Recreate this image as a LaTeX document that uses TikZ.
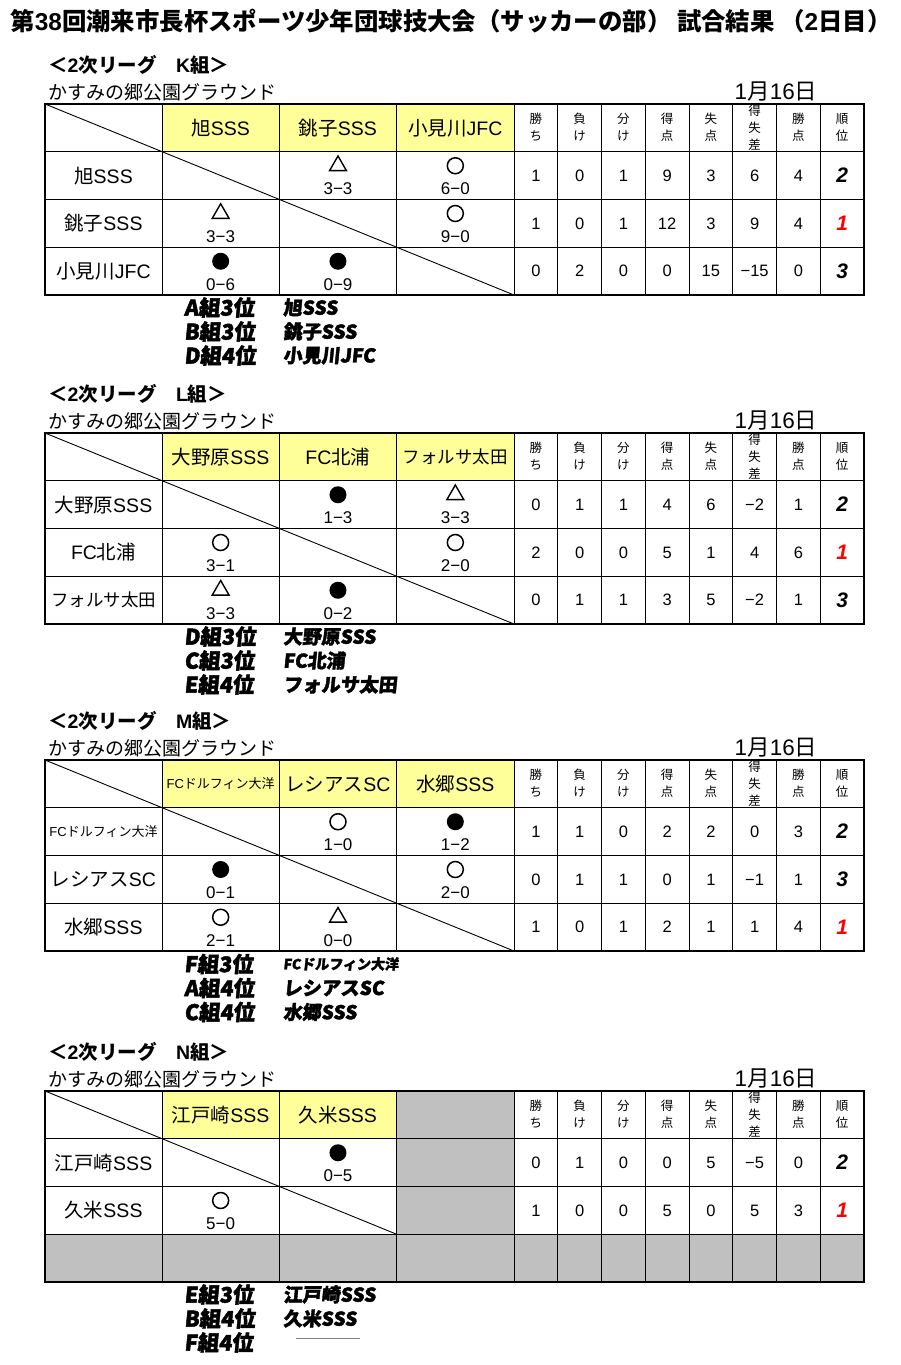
\documentclass[tikz,border=0pt]{standalone}
\usepackage{fontspec}
\setmainfont{Noto Sans CJK JP}
\newfontfamily\numfont{Liberation Sans}
\newfontfamily\popfont[FakeSlant=0.1,FakeBold=2]{Noto Sans CJK JP}
\newcommand\lat[1]{{\numfont #1}}
\usetikzlibrary{shapes.geometric}
\definecolor{hdyellow}{RGB}{255,255,153}
\definecolor{cellgrey}{RGB}{192,192,192}
\definecolor{rankred}{RGB}{255,0,0}
\tikzset{
	gridline/.style={line width=0.9pt},
	frameline/.style={line width=1.3pt},
	diagline/.style={line width=0.9pt},
	titletxt/.style={inner sep=0pt,font=\fontsize{24.4}{26}\selectfont\bfseries},
	leaguetxt/.style={anchor=west,inner sep=0pt,font=\fontsize{19.5}{22}\selectfont\bfseries},
	groundtxt/.style={anchor=west,inner sep=0pt,font=\fontsize{19}{22}\selectfont},
	datetxt/.style={inner sep=0pt,font=\fontsize{22.5}{24}\selectfont},
	teamtxt/.style={inner sep=0pt,font=\fontsize{19.5}{21}\selectfont},
	smallteam/.style={inner sep=0pt,font=\fontsize{13}{15}\selectfont},
	stathead/.style={align=center,inner sep=0pt,font=\fontsize{12.5}{17}\selectfont},
	statnum/.style={inner sep=0pt,font=\numfont\fontsize{16.5}{18}\selectfont},
	rankno/.style={inner sep=0pt,font=\numfont\bfseries\itshape\fontsize{21}{24}\selectfont},
	win/.style={circle,draw,line width=1.5pt,minimum size=16pt,inner sep=0pt},
	loss/.style={circle,fill=black,minimum size=17pt,inner sep=0pt},
	tie/.style={regular polygon,regular polygon sides=3,draw,line width=1.4pt,minimum size=19.5pt,inner sep=0pt},
	score/.style={inner sep=0pt,font=\numfont\fontsize{17}{18}\selectfont},
	popgroup/.style={anchor=west,inner sep=0pt,font=\popfont\bfseries\fontsize{21.5}{22}\selectfont},
	popteam/.style={anchor=west,inner sep=0pt,font=\popfont\bfseries\fontsize{19}{20}\selectfont},
	popsmall/.style={anchor=west,inner sep=0pt,font=\popfont\bfseries\fontsize{14}{15}\selectfont},
}
\begin{document}
\begin{tikzpicture}[x=1pt,y=-1pt,line cap=rect,line join=miter]
	\useasboundingbox (0,0) rectangle (900,1365);
	\node[titletxt] (title) at (451,21) {第\lat{38}回潮来市長杯スポーツ少年団球技大会（サッカーの部） 試合結果 （\lat{2}日目）};
	% grey cells of N
	\fill[cellgrey] (397,1091) rectangle (514,1282);
	\fill[cellgrey] (45,1234.25) rectangle (864,1282);
	% the four grids
	\foreach \tp/\lgname/\nm/\yl/\dx/\dy in {104/K/k/514/514/191,433/L/l/514/514/191,760/M/m/514/514/191,1091/N/n/396.67/396.67/143.25}{
		\begin{scope}[shift={(0,\tp)}]
			\node[leaguetxt] (\nm-league) at (48,-39) {＜\lat{2}次リーグ　\lat{\lgname}組＞};
			\node[groundtxt] (\nm-ground) at (48,-12) {かすみの郷公園グラウンド};
			\node[datetxt] (\nm-date) at (776,-12) {\lat{1}月\lat{16}日};
			\fill[hdyellow] (162,0) rectangle (\yl,47.75);
			\foreach \y in {47.75,95.5,143.25}
			\draw[gridline] (45,\y) -- (864,\y);
			\foreach \x in {162,279.33,396.67,514,557.75,601.5,645.25,689,732.75,776.5,820.25}
			\draw[gridline] (\x,0) -- (\x,191);
			\draw[frameline] (45,0) rectangle (864,191);
			\draw[diagline] (45,0) -- (\dx,\dy);
			\foreach \h [count=\k] in {勝\\ち,負\\け,分\\け,得\\点,失\\点,得\\失\\差,勝\\点,順\\位}
			\node[stathead] (\nm-head\k) at ({492.125+43.75*\k},23.5) {\h};
		\end{scope}
	}
	% K
	\begin{scope}[shift={(0,104)}]
		\foreach \tm [count=\i] in {旭\lat{SSS},銚子\lat{SSS},小見川\lat{JFC}}{
			\node[teamtxt] (k-h\i) at ({103.33+117.33*\i},23.9) {\tm};
			\node[teamtxt] (k-r\i) at (103.5,{47.75*\i+23.9}) {\tm};
		}
		\foreach \row/\col/\mres/\scr in {1/2/tie/3−3,1/3/win/6−0,2/1/tie/3−3,2/3/win/9−0,3/1/loss/0−6,3/2/loss/0−9}{
			\node[\mres] (k-m\row\col) at ({103.33+117.33*\col},{47.75*\row+14}) {};
			\node[score] (k-sc\row\col) at ({103.33+117.33*\col},{47.75*\row+37}) {\scr};
		}
		\foreach \row/\vals/\rk/\rc in {1/{1,0,1,9,3,6,4}/2/black,2/{1,0,1,12,3,9,4}/1/rankred,3/{0,2,0,0,15,−15,0}/3/black}{
			\foreach \val [count=\k] in \vals
			\node[statnum] (k-st\row-\k) at ({492.125+43.75*\k},{47.75*\row+23.9}) {\val};
			\node[rankno,text=\rc] (k-rank\row) at (842.1,{47.75*\row+23.9}) {\rk};
		}
		\node[popgroup] (k-g1) at (184,203.5) {A組3位};
		\node[popgroup] (k-g2) at (184,227.5) {B組3位};
		\node[popgroup] (k-g3) at (184,251.5) {D組4位};
		\node[popteam] (k-t1) at (283,203.5) {旭SSS};
		\node[popteam] (k-t2) at (283,227.5) {銚子SSS};
		\node[popteam] (k-t3) at (283,251.5) {小見川JFC};
	\end{scope}
	% L
	\begin{scope}[shift={(0,433)}]
		\foreach \tm [count=\i] in {大野原\lat{SSS},\lat{FC}北浦,{\fontsize{17.5}{20}\selectfont フォルサ太田}}{
			\node[teamtxt] (l-h\i) at ({103.33+117.33*\i},23.9) {\tm};
			\node[teamtxt] (l-r\i) at (103.5,{47.75*\i+23.9}) {\tm};
		}
		\foreach \row/\col/\mres/\scr in {1/2/loss/1−3,1/3/tie/3−3,2/1/win/3−1,2/3/win/2−0,3/1/tie/3−3,3/2/loss/0−2}{
			\node[\mres] (l-m\row\col) at ({103.33+117.33*\col},{47.75*\row+14}) {};
			\node[score] (l-sc\row\col) at ({103.33+117.33*\col},{47.75*\row+37}) {\scr};
		}
		\foreach \row/\vals/\rk/\rc in {1/{0,1,1,4,6,−2,1}/2/black,2/{2,0,0,5,1,4,6}/1/rankred,3/{0,1,1,3,5,−2,1}/3/black}{
			\foreach \val [count=\k] in \vals
			\node[statnum] (l-st\row-\k) at ({492.125+43.75*\k},{47.75*\row+23.9}) {\val};
			\node[rankno,text=\rc] (l-rank\row) at (842.1,{47.75*\row+23.9}) {\rk};
		}
		\node[popgroup] (l-g1) at (184,203.5) {D組3位};
		\node[popgroup] (l-g2) at (184,227.5) {C組3位};
		\node[popgroup] (l-g3) at (184,251.5) {E組4位};
		\node[popteam] (l-t1) at (283,203.5) {大野原SSS};
		\node[popteam] (l-t2) at (283,227.5) {FC北浦};
		\node[popteam] (l-t3) at (283,251.5) {フォルサ太田};
	\end{scope}
	% M
	\begin{scope}[shift={(0,760)}]
		\node[smallteam] (m-h1) at (220.67,23.9) {\lat{FC}ドルフィン大洋};
		\node[smallteam] (m-r1) at (103.5,71.65) {\lat{FC}ドルフィン大洋};
		\foreach \tm [count=\i from 2] in {レシアス\lat{SC},水郷\lat{SSS}}{
			\node[teamtxt] (m-h\i) at ({103.33+117.33*\i},23.9) {\tm};
			\node[teamtxt] (m-r\i) at (103.5,{47.75*\i+23.9}) {\tm};
		}
		\foreach \row/\col/\mres/\scr in {1/2/win/1−0,1/3/loss/1−2,2/1/loss/0−1,2/3/win/2−0,3/1/win/2−1,3/2/tie/0−0}{
			\node[\mres] (m-m\row\col) at ({103.33+117.33*\col},{47.75*\row+14}) {};
			\node[score] (m-sc\row\col) at ({103.33+117.33*\col},{47.75*\row+37}) {\scr};
		}
		\foreach \row/\vals/\rk/\rc in {1/{1,1,0,2,2,0,3}/2/black,2/{0,1,1,0,1,−1,1}/3/black,3/{1,0,1,2,1,1,4}/1/rankred}{
			\foreach \val [count=\k] in \vals
			\node[statnum] (m-st\row-\k) at ({492.125+43.75*\k},{47.75*\row+23.9}) {\val};
			\node[rankno,text=\rc] (m-rank\row) at (842.1,{47.75*\row+23.9}) {\rk};
		}
		\node[popgroup] (m-g1) at (184,204) {F組3位};
		\node[popgroup] (m-g2) at (184,228) {A組4位};
		\node[popgroup] (m-g3) at (184,252) {C組4位};
		\node[popsmall] (m-t1) at (283,204) {FCドルフィン大洋};
		\node[popteam] (m-t2) at (283,228) {レシアスSC};
		\node[popteam] (m-t3) at (283,252) {水郷SSS};
	\end{scope}
	% N
	\begin{scope}[shift={(0,1091)}]
		\foreach \tm [count=\i] in {江戸崎\lat{SSS},久米\lat{SSS}}{
			\node[teamtxt] (n-h\i) at ({103.33+117.33*\i},23.9) {\tm};
			\node[teamtxt] (n-r\i) at (103.5,{47.75*\i+23.9}) {\tm};
		}
		\foreach \row/\col/\mres/\scr in {1/2/loss/0−5,2/1/win/5−0}{
			\node[\mres] (n-m\row\col) at ({103.33+117.33*\col},{47.75*\row+14}) {};
			\node[score] (n-sc\row\col) at ({103.33+117.33*\col},{47.75*\row+37}) {\scr};
		}
		\foreach \row/\vals/\rk/\rc in {1/{0,1,0,0,5,−5,0}/2/black,2/{1,0,0,5,0,5,3}/1/rankred}{
			\foreach \val [count=\k] in \vals
			\node[statnum] (n-st\row-\k) at ({492.125+43.75*\k},{47.75*\row+23.9}) {\val};
			\node[rankno,text=\rc] (n-rank\row) at (842.1,{47.75*\row+23.9}) {\rk};
		}
		\node[popgroup] (n-g1) at (184,203.5) {E組3位};
		\node[popgroup] (n-g2) at (184,227.5) {B組4位};
		\node[popgroup] (n-g3) at (184,251.5) {F組4位};
		\node[popteam] (n-t1) at (283,203.5) {江戸崎SSS};
		\node[popteam] (n-t2) at (283,227.5) {久米SSS};
		\draw[gray,line width=0.6pt] (296,247) -- (360,247);
	\end{scope}
\end{tikzpicture}
\end{document}
